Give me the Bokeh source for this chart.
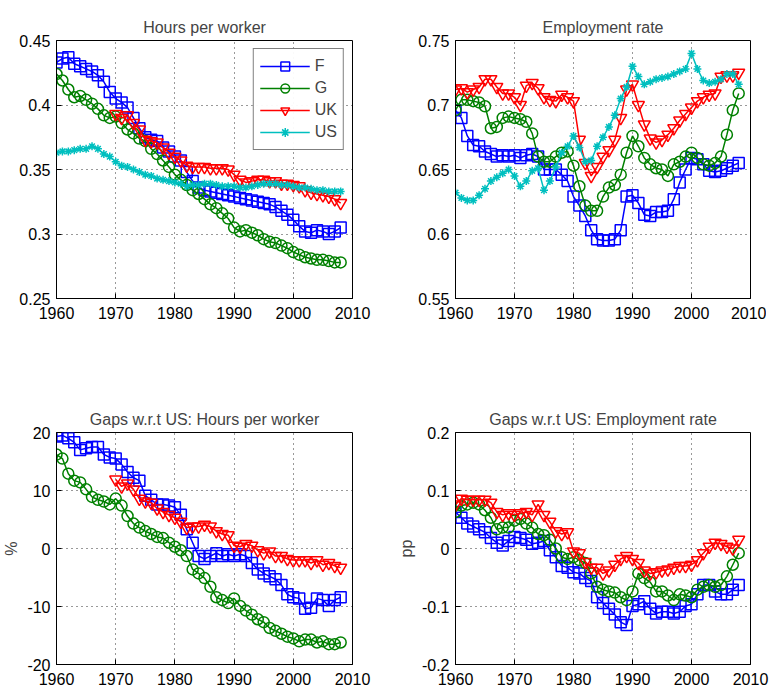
from bokeh.plotting import figure
from bokeh.layouts import gridplot
from bokeh.models import Range1d, FixedTicker, Legend, LegendItem
from bokeh.embed import file_html
from bokeh.resources import INLINE

years = list(range(1960, 2009))
uk_years = list(range(1970, 2009))

hpw_F = [0.433,0.436,0.437,0.432,0.430,0.428,0.426,0.423,0.418,0.410,0.405,0.402,0.398,0.390,0.382,0.375,0.373,0.372,0.367,0.364,0.360,0.357,0.348,0.341,0.336,0.334,0.333,0.332,0.331,0.330,0.329,0.328,0.327,0.326,0.325,0.324,0.323,0.321,0.318,0.315,0.311,0.306,0.302,0.301,0.303,0.302,0.300,0.302,0.305]
hpw_G = [0.424,0.419,0.412,0.406,0.407,0.404,0.401,0.397,0.392,0.390,0.391,0.386,0.381,0.378,0.374,0.372,0.366,0.362,0.357,0.352,0.346,0.342,0.338,0.334,0.331,0.327,0.323,0.320,0.316,0.312,0.305,0.302,0.303,0.301,0.299,0.296,0.294,0.293,0.291,0.289,0.286,0.284,0.282,0.281,0.280,0.280,0.279,0.278,0.278]
hpw_UK = [0.393,0.390,0.392,0.386,0.381,0.373,0.372,0.371,0.367,0.363,0.360,0.357,0.353,0.352,0.352,0.352,0.351,0.351,0.351,0.350,0.346,0.342,0.340,0.341,0.342,0.342,0.341,0.341,0.339,0.339,0.338,0.337,0.334,0.332,0.331,0.330,0.329,0.327,0.324]
hpw_US = [0.363,0.364,0.364,0.365,0.366,0.366,0.368,0.366,0.362,0.360,0.356,0.353,0.352,0.350,0.348,0.346,0.345,0.343,0.342,0.341,0.340,0.339,0.337,0.338,0.338,0.339,0.339,0.338,0.337,0.337,0.337,0.336,0.336,0.337,0.338,0.339,0.339,0.339,0.338,0.338,0.337,0.336,0.336,0.335,0.334,0.334,0.333,0.333,0.333]

emp_F = [0.696,0.690,0.676,0.669,0.668,0.664,0.662,0.660,0.661,0.660,0.661,0.659,0.661,0.662,0.660,0.650,0.650,0.650,0.646,0.641,0.629,0.622,0.614,0.603,0.596,0.595,0.595,0.596,0.603,0.629,0.630,0.624,0.615,0.614,0.617,0.617,0.618,0.627,0.640,0.650,0.659,0.658,0.654,0.649,0.648,0.649,0.651,0.653,0.655]
emp_G = [0.696,0.704,0.704,0.703,0.702,0.699,0.682,0.683,0.690,0.691,0.690,0.689,0.687,0.678,0.660,0.656,0.656,0.660,0.663,0.664,0.653,0.637,0.622,0.618,0.618,0.629,0.636,0.638,0.646,0.663,0.676,0.668,0.659,0.654,0.651,0.650,0.645,0.654,0.656,0.660,0.663,0.659,0.654,0.653,0.655,0.660,0.677,0.696,0.709]
emp_UK = [0.712,0.713,0.710,0.712,0.714,0.720,0.720,0.714,0.709,0.709,0.706,0.700,0.715,0.717,0.713,0.706,0.704,0.703,0.708,0.706,0.703,0.673,0.655,0.645,0.652,0.660,0.665,0.673,0.690,0.712,0.716,0.700,0.685,0.674,0.671,0.673,0.677,0.682,0.688,0.693,0.698,0.703,0.706,0.708,0.709,0.722,0.723,0.723,0.725]
emp_US = [0.632,0.628,0.626,0.626,0.630,0.635,0.641,0.644,0.647,0.650,0.645,0.637,0.641,0.649,0.651,0.634,0.641,0.652,0.663,0.668,0.676,0.667,0.656,0.657,0.668,0.675,0.683,0.692,0.705,0.714,0.730,0.722,0.716,0.718,0.720,0.721,0.722,0.724,0.726,0.728,0.740,0.728,0.719,0.717,0.718,0.720,0.724,0.724,0.716]

gh_F = [19.3,19.5,19.0,18.3,17.0,17.3,17.5,17.5,16.2,15.7,15.5,14.5,13.2,12.2,11.7,9.1,8.4,7.6,7.6,7.4,7.1,5.8,3.3,1.0,-1.3,-1.8,-1.3,-0.8,-1.3,-1.0,-1.3,-1.0,-1.3,-2.5,-3.6,-4.3,-4.8,-5.3,-6.3,-7.9,-8.4,-8.6,-10.4,-10.2,-8.6,-8.9,-9.9,-8.9,-8.4]
gh_G = [16.2,15.5,12.9,11.7,11.4,10.2,8.9,8.4,8.1,7.6,8.6,7.4,5.6,4.3,3.6,3.0,2.5,2.0,1.8,1.0,0.3,-0.3,-1.3,-3.6,-4.3,-5.1,-6.6,-8.4,-8.9,-9.4,-8.6,-9.9,-10.7,-11.4,-12.2,-12.7,-13.7,-14.2,-14.7,-15.2,-15.5,-16.0,-15.7,-15.7,-16.2,-16.0,-16.5,-16.5,-16.2]
gh_UK = [11.9,10.7,11.2,10.2,8.6,8.1,7.9,6.9,6.3,5.8,5.3,4.6,3.6,3.8,3.8,4.1,3.8,3.0,2.5,2.3,0.5,0.3,0.8,0.5,-0.3,-0.8,-0.5,-1.3,-1.3,-1.8,-2.0,-2.0,-2.0,-2.5,-2.0,-2.8,-2.5,-3.0,-3.3]

ge_F = [0.063,0.053,0.043,0.038,0.033,0.028,0.018,0.010,0.005,0.013,0.020,0.018,0.015,0.008,0.010,0.013,-0.003,-0.015,-0.030,-0.033,-0.041,-0.043,-0.051,-0.056,-0.084,-0.094,-0.104,-0.114,-0.127,-0.132,-0.099,-0.096,-0.091,-0.104,-0.112,-0.109,-0.109,-0.112,-0.109,-0.099,-0.096,-0.079,-0.063,-0.063,-0.074,-0.079,-0.079,-0.071,-0.063]
ge_G = [0.063,0.074,0.076,0.079,0.076,0.066,0.053,0.033,0.036,0.036,0.048,0.051,0.043,0.036,0.025,0.023,0.015,0.0,-0.015,-0.018,-0.015,-0.020,-0.025,-0.043,-0.066,-0.071,-0.074,-0.076,-0.084,-0.089,-0.074,-0.043,-0.051,-0.058,-0.074,-0.074,-0.081,-0.089,-0.079,-0.081,-0.084,-0.071,-0.066,-0.063,-0.066,-0.063,-0.048,-0.028,-0.008]
ge_UK = [0.076,0.086,0.084,0.084,0.084,0.084,0.079,0.063,0.058,0.061,0.058,0.061,0.063,0.058,0.076,0.058,0.046,0.030,0.025,0.028,-0.005,-0.008,-0.023,-0.033,-0.033,-0.043,-0.038,-0.028,-0.018,-0.013,-0.018,-0.025,-0.038,-0.043,-0.041,-0.038,-0.036,-0.033,-0.030,-0.030,-0.028,-0.020,-0.008,0.003,0.010,0.008,0.003,0.0,0.015]

BLUE, GREEN, RED, CYAN = "#0000ff", "#008000", "#ff0000", "#00bfbf"
FONT = "Liberation Sans"

def mk(title, ylo, yhi, yticks, ylabels, left, top, bottom, right, fh, ylab=None):
    p = figure(frame_width=296 if left > 52 else 295, frame_height=fh,
               x_range=Range1d(1960, 2010), y_range=Range1d(ylo, yhi),
               output_backend="svg", toolbar_location=None,
               min_border_left=left, min_border_top=top, min_border_bottom=bottom, min_border_right=right)
    p.title.text = title
    p.title.align = "center"
    p.title.text_font = FONT
    p.title.text_font_size = "16px"
    p.title.text_font_style = "normal"
    p.outline_line_color = "black"
    p.outline_line_width = 1
    p.xaxis.ticker = FixedTicker(ticks=[1960,1970,1980,1990,2000,2010])
    p.yaxis.ticker = FixedTicker(ticks=yticks)
    p.yaxis.major_label_overrides = dict(zip(yticks, ylabels))
    for ax in (p.xaxis[0], p.yaxis[0]):
        ax.major_tick_in = 5
        ax.major_tick_out = 0
        ax.minor_tick_in = 0
        ax.minor_tick_out = 0
        ax.axis_line_color = "black"
        ax.major_label_text_font = FONT
        ax.major_label_text_font_size = "16px"
        ax.major_label_text_color = "black"
    p.xaxis.major_label_standoff = 8
    p.yaxis.major_label_standoff = 6
    if ylab:
        p.yaxis.axis_label = ylab
        p.yaxis.axis_label_text_font = FONT
        p.yaxis.axis_label_text_font_style = "normal"
        p.yaxis.axis_label_text_font_size = "16px"
        p.yaxis.axis_label_standoff = 4
    for g in (p.xgrid[0], p.ygrid[0]):
        g.grid_line_color = "black"
        g.grid_line_dash = "1 4"
        g.grid_line_alpha = 0.8
    return p

def series(p, x, y, color, marker, size=11):
    r = p.line(x, y, line_color=color, line_width=1.5)
    s = p.scatter(x, y, marker=marker, size=size, line_color=color, fill_color=None, line_width=1.5)
    return [r, s]

p1 = mk("Hours per worker", 0.25, 0.45, [0.25,0.3,0.35,0.4,0.45], ["0.25","0.3","0.35","0.4","0.45"], 53, 40, 80, 42, 258)
rF = series(p1, years, hpw_F, BLUE, "square")
rG = series(p1, years, hpw_G, GREEN, "circle")
rU = series(p1, uk_years, hpw_UK, RED, "inverted_triangle", 12)
rS = series(p1, years, hpw_US, CYAN, "asterisk", 8)
leg = Legend(items=[LegendItem(label="F", renderers=rF), LegendItem(label="G", renderers=rG),
                    LegendItem(label="UK", renderers=rU), LegendItem(label="US", renderers=rS)],
             location="top_right", border_line_color="black", label_text_font=FONT,
             label_text_font_size="16px", glyph_width=50, spacing=0, padding=6, margin=8,
             label_height=22, glyph_height=22)
p1.add_layout(leg)

p2 = mk("Employment rate", 0.55, 0.75, [0.55,0.6,0.65,0.7,0.75], ["0.55","0.6","0.65","0.7","0.75"], 52, 40, 80, 25, 258)
series(p2, years, emp_F, BLUE, "square")
series(p2, years, emp_G, GREEN, "circle")
series(p2, years, emp_UK, RED, "inverted_triangle", 12)
series(p2, years, emp_US, CYAN, "asterisk", 8)

p3 = mk("Gaps w.r.t US: Hours per worker", -20, 20, [-20,-10,0,10,20], ["-20","-10","0","10","20"], 53, 54, 25, 42, 232, "%")
series(p3, years, gh_F, BLUE, "square")
series(p3, years, gh_G, GREEN, "circle")
series(p3, uk_years, gh_UK, RED, "inverted_triangle", 12)

p4 = mk("Gaps w.r.t US: Employment rate", -0.2, 0.2, [-0.2,-0.1,0,0.1,0.2], ["-0.2","-0.1","0","0.1","0.2"], 52, 54, 25, 25, 232, "pp")
series(p4, years, ge_F, BLUE, "square")
series(p4, years, ge_G, GREEN, "circle")
series(p4, years, ge_UK, RED, "inverted_triangle", 12)

grid = gridplot([[p1, p2], [p3, p4]], toolbar_location=None)
open("out.html", "w").write(file_html(grid, INLINE))
